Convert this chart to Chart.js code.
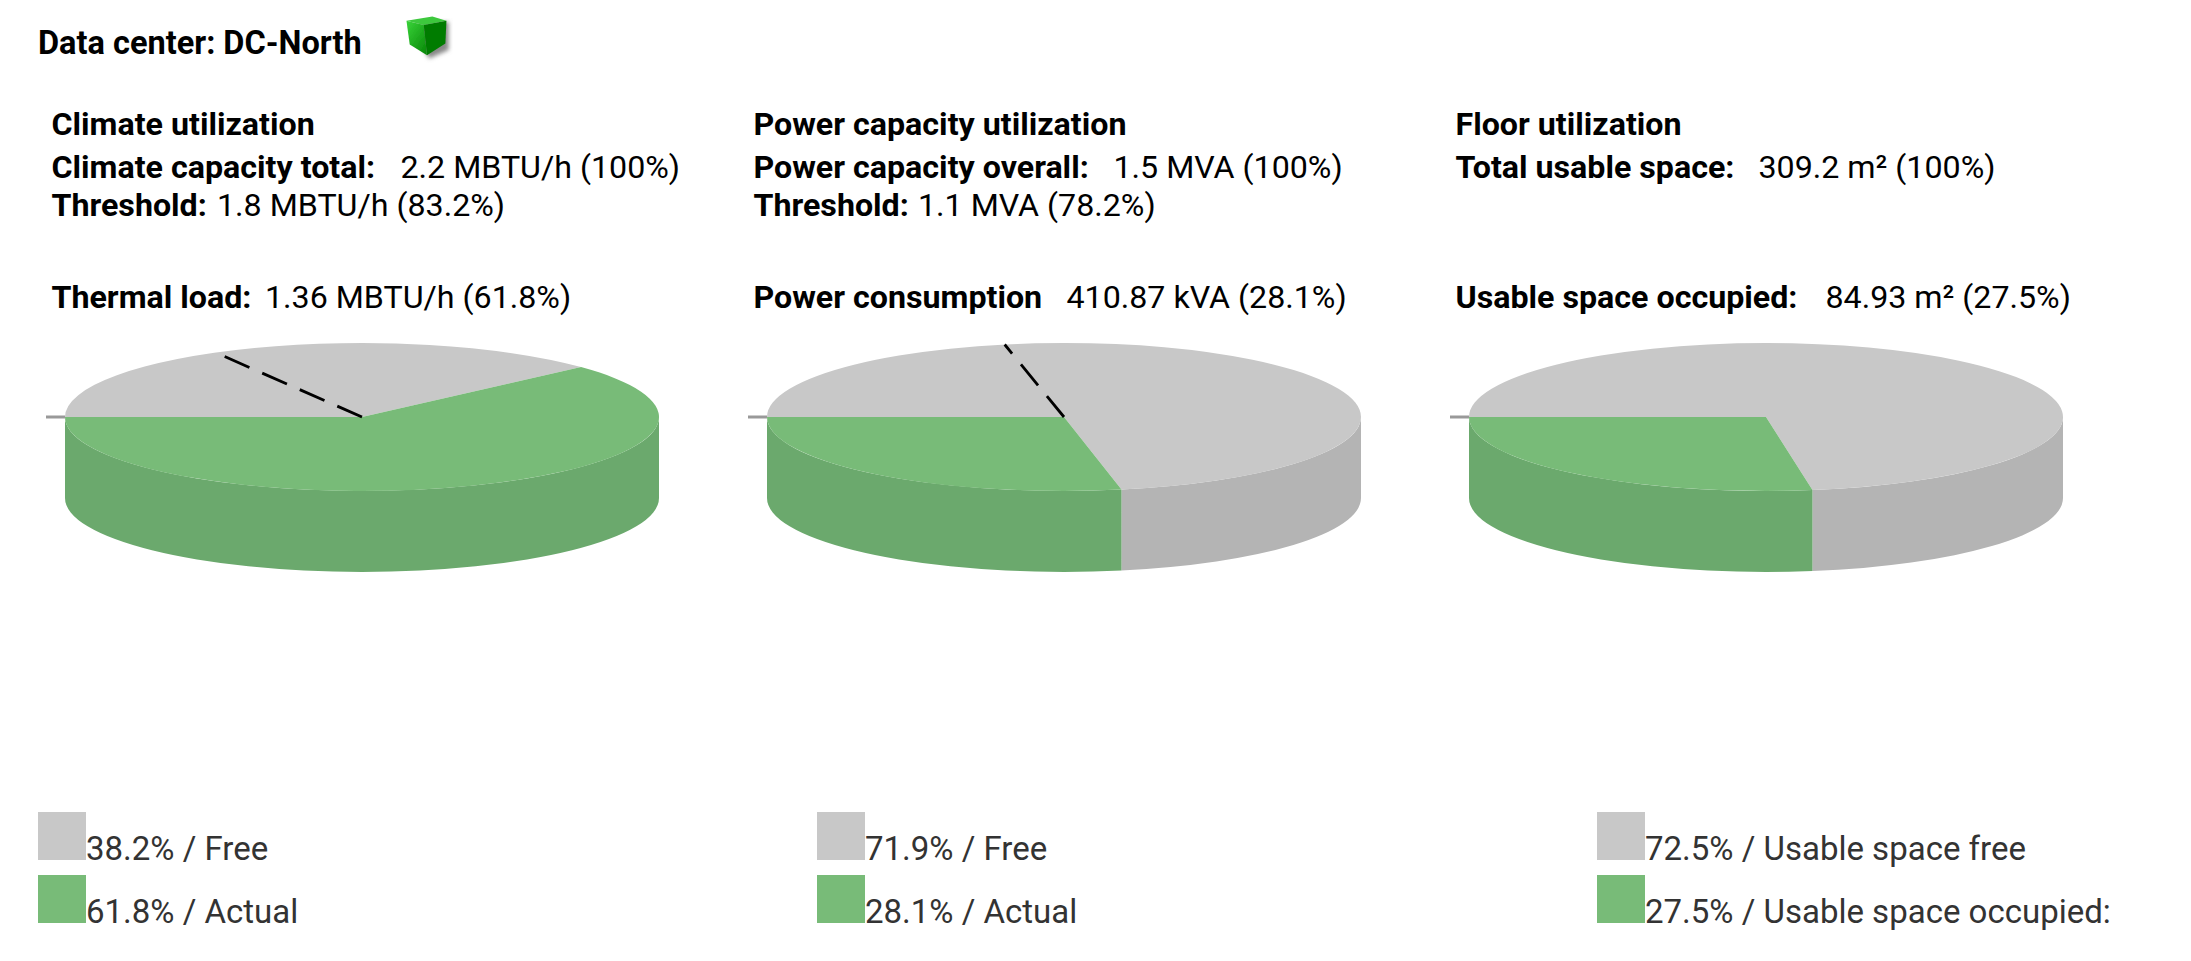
<!DOCTYPE html>
<html>
<head>
<meta charset="utf-8">
<title>Data center utilization</title>
<script src="https://cdn.jsdelivr.net/npm/chart.js@4"></script>
<style>
  html,body{margin:0;padding:0;background:#fff;overflow:hidden}
  body{width:2191px;height:961px;position:relative;font-family:Roboto,sans-serif;color:#000}
  .txt{position:absolute;white-space:nowrap;font-size:32.2px;line-height:38px}
  .txt b{font-weight:700}
  .legend{color:#333;font-size:33px}
  .swatch{position:absolute;width:48px;height:48px}
  canvas{position:absolute}
  #cube{position:absolute;left:401px;top:11px}
</style>
</head>
<body>
<div class="txt" style="left:38px;top:24px;font-size:32.5px"><b id="dc-title"></b></div>
<svg id="cube" width="52" height="54" viewBox="0 0 48 50">
  <defs>
    <filter id="blur"><feGaussianBlur stdDeviation="2.2"/></filter>
    <filter id="soft"><feGaussianBlur stdDeviation="0.7"/></filter>
    <linearGradient id="face" x1="0" y1="0" x2="0.8" y2="1"><stop offset="0" stop-color="#3ad43a"/><stop offset="1" stop-color="#0a8c0a"/></linearGradient>
  </defs>
  <polygon points="8,14 26,44 44,36 44,10" fill="#888" filter="url(#blur)"/>
  <g filter="url(#soft)">
    <polygon points="5,9 29,5 42,9 21,13" fill="#3cc83c"/>
    <polygon points="5,9 21,13 24,41 8,31" fill="url(#face)"/>
    <polygon points="21,13 42,9 41,30 24,41" fill="#067c06"/>
  </g>
</svg>
<div id="panels"></div>
<script>
// valores
const panelTitles = ['Climate utilization','Power capacity utilization','Floor utilization'];
const totalLabels = ['Climate capacity total:','Power capacity overall:','Total usable space:'];
const totalValues = ['2.2 MBTU/h (100%)','1.5 MVA (100%)','309.2 m² (100%)'];
const thresholdTexts = ['1.8 MBTU/h (83.2%)','1.1 MVA (78.2%)',null];
const usedLabels = ['Thermal load:','Power consumption','Usable space occupied:'];
const usedValues = ['1.36 MBTU/h (61.8%)','410.87 kVA (28.1%)','84.93 m² (27.5%)'];
const freeNames = ['Free','Free','Usable space free'];
const actualNames = ['Actual','Actual','Usable space occupied:'];
const freeShare = [38.2,71.9,72.5];
const actualShare = [61.8,28.1,27.5];
const thresholdShare = [83.2,78.2,null];

const GRAY = '#C8C8C8', GRAY_SIDE = '#B4B4B4', GREEN = '#78BB78', GREEN_SIDE = '#6BA96D';

// layout
const pieCenters = [362,1064,1766];
const textLefts = [51.5,753.5,1455.5];
const totalValueLefts = [400.5,1113.5,1758.5];
const thresholdValueLefts = [217,918,null];
const usedValueLefts = [265,1066.5,1825.5];
const legendLefts = [38,817,1597];
const pieY = 417, rx = 297, ry = 74, depth = 81;
const BASE_RADIUS = 80;

function addText(left, top, html, cls){
  const d = document.createElement('div');
  d.className = 'txt' + (cls ? ' ' + cls : '');
  d.style.left = left + 'px'; d.style.top = top + 'px';
  d.innerHTML = html;
  document.getElementById('panels').appendChild(d);
}

function addSwatch(left, top, color){
  const s = document.createElement('div');
  s.className = 'swatch';
  s.style.left = left + 'px'; s.style.top = top + 'px'; s.style.background = color;
  document.getElementById('panels').appendChild(s);
}

// lateral do "3D" e achatamento usando os ângulos dos arcos do próprio Chart.js
const pie3d = {
  id: 'pie3d',
  beforeDatasetsDraw(chart){
    const ctx = chart.ctx;
    const arcs = chart.getDatasetMeta(0).data;
    const x = arcs[0].x, y = arcs[0].y;
    const sideColors = chart.options.plugins.pie3d.sideColors;
    ctx.save();
    arcs.forEach((arc,i)=>{
      const s = Math.max(arc.startAngle, 0), e = Math.min(arc.endAngle, Math.PI);
      if(e <= s) return;
      ctx.beginPath();
      ctx.ellipse(x, y, rx, ry, 0, s, e);
      ctx.ellipse(x, y + depth, rx, ry, 0, e, s, true);
      ctx.closePath();
      ctx.fillStyle = sideColors[i];
      ctx.fill();
    });
    ctx.translate(x, y);
    ctx.scale(rx / arcs[0].outerRadius, ry / arcs[0].outerRadius);
    ctx.translate(-x, -y);
  },
  afterDatasetsDraw(chart){
    const ctx = chart.ctx;
    ctx.restore();
    const arcs = chart.getDatasetMeta(0).data;
    const x = arcs[0].x, y = arcs[0].y;
    // tracinho à esquerda
    ctx.save();
    ctx.strokeStyle = '#999';
    ctx.lineWidth = 3;
    ctx.beginPath();
    ctx.moveTo(x - rx - 19, y);
    ctx.lineTo(x - rx, y);
    ctx.stroke();
    const t = chart.options.plugins.pie3d.threshold;
    if(t !== null){
      const a = arcs[0].startAngle + (1 - t / 100) * 2 * Math.PI;
      ctx.strokeStyle = '#000';
      ctx.lineWidth = 2.8;
      ctx.setLineDash([27,14]);
      ctx.beginPath();
      ctx.moveTo(x, y);
      ctx.lineTo(x + rx * Math.cos(a), y + ry * Math.sin(a));
      ctx.stroke();
    }
    ctx.restore();
  }
};

function createPie(i){
  const cv = document.createElement('canvas');
  cv.width = 640; cv.height = 250;
  cv.style.left = (pieCenters[i] - 320) + 'px';
  cv.style.top = (pieY - BASE_RADIUS) + 'px';
  cv.style.width = '640px'; cv.style.height = '250px';
  document.getElementById('panels').appendChild(cv);
  new Chart(cv.getContext('2d'), {
    type: 'pie',
    data: {
      labels: [freeNames[i], actualNames[i]],
      datasets: [{data:[freeShare[i],actualShare[i]],backgroundColor:[GRAY,GREEN],borderWidth:0,clip:false}]
    },
    options: {
      responsive:false,
      animation:false,
      rotation:-90,
      layout:{padding:{bottom:250 - 2 * BASE_RADIUS}},
      plugins:{
        legend:{display:false},
        tooltip:{enabled:false},
        pie3d:{sideColors:[GRAY_SIDE,GREEN_SIDE],threshold:thresholdShare[i]}
      }
    },
    plugins:[pie3d]
  });
}

document.addEventListener('DOMContentLoaded',()=>{
  document.getElementById('dc-title').textContent = 'Data center: DC-North';
  panelTitles.forEach((title,i)=>{
    const x = textLefts[i];
    addText(x, 105, '<b>' + title + '</b>');
    addText(x, 148, '<b>' + totalLabels[i] + '</b>');
    addText(totalValueLefts[i], 148, totalValues[i]);
    if(thresholdTexts[i]){
      addText(x, 186, '<b>Threshold:</b>');
      addText(thresholdValueLefts[i], 186, thresholdTexts[i]);
    }
    addText(x, 278, '<b>' + usedLabels[i] + '</b>');
    addText(usedValueLefts[i], 278, usedValues[i]);
    createPie(i);
    const lx = legendLefts[i];
    addSwatch(lx, 812, GRAY);
    addSwatch(lx, 875, GREEN);
    addText(lx + 48, 830, freeShare[i].toFixed(1) + '% / ' + freeNames[i], 'legend');
    addText(lx + 48, 893, actualShare[i].toFixed(1) + '% / ' + actualNames[i], 'legend');
  });
});
</script>
</body>
</html>
